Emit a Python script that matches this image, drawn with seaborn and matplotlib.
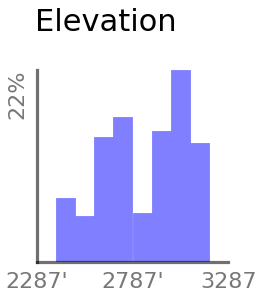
import matplotlib
matplotlib.use("Agg")
import matplotlib.pyplot as plt
import seaborn as sns
import numpy as np

# Data
bin_starts = [2387, 2487, 2587, 2687, 2787, 2887, 2987, 3087]
bin_width = 100
percents = [7.3, 5.3, 14.3, 16.6, 5.6, 15.0, 22.0, 13.6]
x_ticks = [2287, 2787, 3287]
x_tick_labels = ["2287'", "2787'", "3287"]
y_ticks = [22]
y_tick_labels = ["22%"]
title = "Elevation"

sns.set_style("white")
plt.rcParams['font.family'] = ['DejaVu Sans']

fig = plt.figure(figsize=(2.58, 2.97), dpi=100)
ax = fig.add_axes([37/258, 35/297, 191/258, 192/297])

centers = [s + bin_width / 2 for s in bin_starts]
edges = bin_starts + [bin_starts[-1] + bin_width]
sns.histplot(x=centers, weights=percents, bins=edges, ax=ax,
             color="#7f7fff", alpha=1.0, linewidth=0.6, edgecolor="#7f7fff", stat="count")

ax.set_xlim(2287, 3287)
ax.set_ylim(0, 22)
ax.set_xlabel("")
ax.set_ylabel("")
ax.set_xticks(x_ticks)
ax.set_xticklabels(x_tick_labels)
ax.set_yticks(y_ticks)
ax.set_yticklabels(y_tick_labels, rotation=90, va="top")
ax.tick_params(axis="both", length=0, labelsize=16, labelcolor="#777777")
ax.tick_params(axis="x", pad=7)
ax.tick_params(axis="y", pad=7)

for side in ["top", "right"]:
    ax.spines[side].set_visible(False)
for side in ["left", "bottom"]:
    ax.spines[side].set_color("black")
    ax.spines[side].set_alpha(0.56)
    ax.spines[side].set_linewidth(2.3)
    ax.spines[side].set_zorder(5)
ax.grid(False)

fig.text(35/258, 1 - 31/297, title, fontsize=22, ha="left", va="baseline", color="black")

fig.savefig("out.png", dpi=100)
